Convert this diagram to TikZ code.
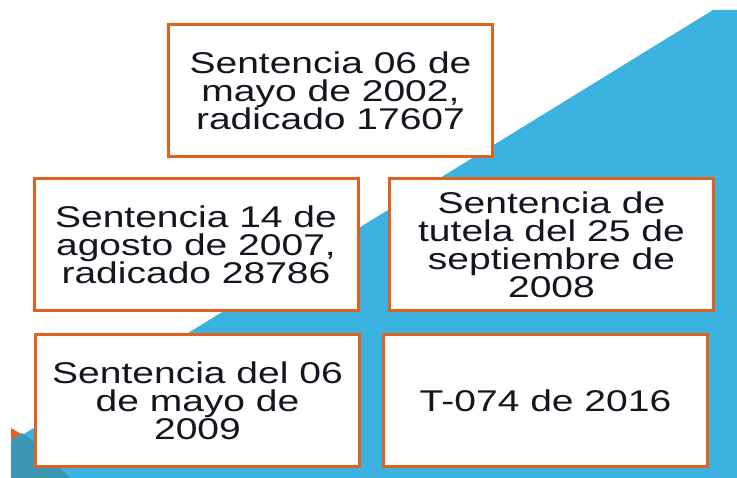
\documentclass[tikz,border=0pt]{standalone}
\usepackage{fontspec}
\setmainfont{Liberation Sans}[FakeStretch=1.3]
\definecolor{celeste}{HTML}{3BB2E0}
\definecolor{petroleo}{HTML}{3A96B2}
\definecolor{naranja}{HTML}{E0621E}
\definecolor{texto}{HTML}{15151F}

\begin{document}
\begin{tikzpicture}[x=1pt, y=-1pt,
    fallo/.style={rectangle, draw=naranja, line width=3pt, fill=white, minimum width=324pt, minimum height=132pt, inner sep=0pt, align=center, text=texto, font=\fontsize{30}{28}\selectfont}]

% Background
\useasboundingbox (0,0) rectangle (737,478);
\fill[white] (0,0) rectangle (737,478);
\fill[celeste] (11,442) -- (713,10) -- (737,10) -- (737,478) -- (11,478) -- cycle;
\fill[naranja] (11,428) -- (21,434) -- (11,440) -- cycle;
\fill[petroleo] (11,440) -- (22,433) -- (33,441) -- (70,478) -- (11,478) -- cycle;

% Rulings
\node[fallo] (s2002) at (330.5,90.5) {Sentencia 06 de\\mayo de 2002,\\radicado 17607};
\node[fallo] (s2007) at (196,245) {Sentencia 14 de\\agosto de 2007,\\radicado 28786};
\node[fallo] (s2008) at (551.5,245) {Sentencia de\\tutela del 25 de\\septiembre de\\2008};
\node[fallo] (s2009) at (197.5,400.5) {Sentencia del 06\\de mayo de\\2009};
\node[fallo] (t2016) at (545.5,400.5) {T-074 de 2016};

\end{tikzpicture}
\end{document}
